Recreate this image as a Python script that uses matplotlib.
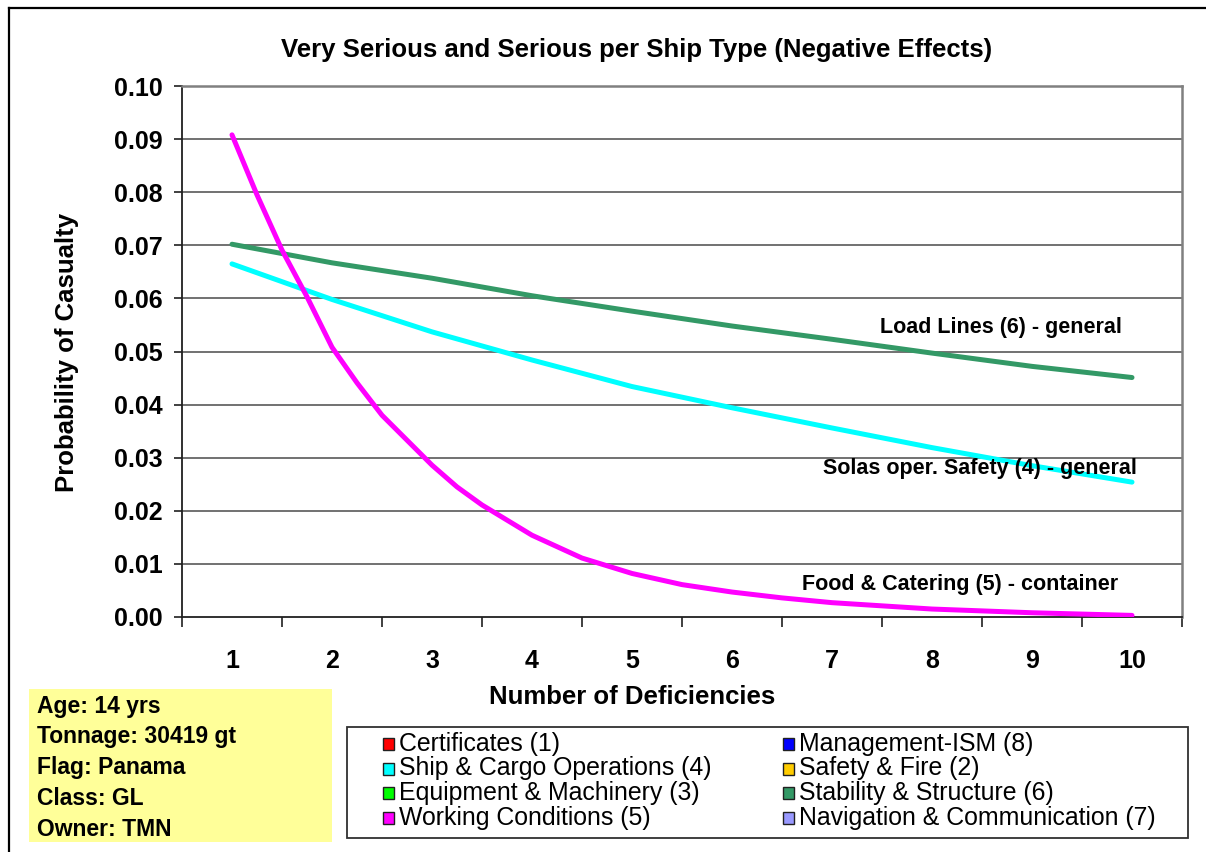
import matplotlib
matplotlib.use("Agg")
import matplotlib.pyplot as plt
from matplotlib.patches import Rectangle
from matplotlib.lines import Line2D

plt.rcParams['font.family'] = ['Liberation Sans', 'DejaVu Sans']

# ---- data ----
categories = [1, 2, 3, 4, 5, 6, 7, 8, 9, 10]
load_lines = [0.0702, 0.0667, 0.0638, 0.0605, 0.0576, 0.0548, 0.0523, 0.0497, 0.0472, 0.0451]
solas = [0.0665, 0.0598, 0.0537, 0.0484, 0.0434, 0.0394, 0.0356, 0.0319, 0.0285, 0.0254]
food_x = [1, 1.25, 1.5, 1.75, 2, 2.25, 2.5, 2.75, 3, 3.25, 3.5, 4, 4.5, 5, 5.5, 6, 6.5, 7, 8, 9, 10]
food = [0.0908, 0.0795, 0.0691, 0.0603, 0.0508, 0.0441, 0.0380, 0.0333, 0.0286, 0.0245, 0.0211,
        0.0154, 0.0111, 0.0082, 0.0061, 0.0047, 0.0036, 0.0027, 0.0015, 0.0008, 0.0003]
yticks = [0.00, 0.01, 0.02, 0.03, 0.04, 0.05, 0.06, 0.07, 0.08, 0.09, 0.10]

title = "Very Serious and Serious per Ship Type (Negative Effects)"
xlabel = "Number of Deficiencies"
ylabel = "Probability of Casualty"
annotations = ["Load Lines (6) - general", "Solas oper. Safety (4) - general", "Food & Catering (5) - container"]
info_lines = ["Age: 14 yrs", "Tonnage: 30419 gt", "Flag: Panama", "Class: GL", "Owner: TMN"]
legend_col1 = ["Certificates (1)", "Ship & Cargo Operations (4)", "Equipment & Machinery (3)", "Working Conditions (5)"]
legend_col1_colors = ["#FF0000", "#00FFFF", "#00FF00", "#FF00FF"]
legend_col2 = ["Management-ISM (8)", "Safety & Fire (2)", "Stability & Structure (6)", "Navigation & Communication (7)"]
legend_col2_colors = ["#0000FF", "#FFCC00", "#339966", "#9999FF"]

W, H = 1206, 852
fig = plt.figure(figsize=(W / 100, H / 100), dpi=100)

def fx(px):
    return px / W

def fy(py):
    return 1 - py / H

# figure border (top and left)
fig.add_artist(Line2D([fx(9), 1.0], [fy(8), fy(8)], color="black", lw=1.6))
fig.add_artist(Line2D([fx(9), fx(9)], [fy(8), 0.0], color="black", lw=1.6))

ax = fig.add_axes([fx(182), fy(617), fx(1182) - fx(182), fy(86) - fy(617)])
ax.set_xlim(0.5, 10.5)
ax.set_ylim(0, 0.10)

for y in yticks[1:]:
    ax.axhline(y, color="#4a4a4a", lw=1.1, zorder=1)

ax.plot(categories, load_lines, color="#339966", lw=3.6, solid_capstyle="round", zorder=3)
ax.plot(categories, solas, color="#00FFFF", lw=3.6, solid_capstyle="round", zorder=3)
ax.plot(food_x, food, color="#FF00FF", lw=3.6, solid_capstyle="round", zorder=4)

for s in ["top", "right"]:
    ax.spines[s].set_color("#808080")
    ax.spines[s].set_linewidth(1.8)
for s in ["left", "bottom"]:
    ax.spines[s].set_color("#202020")
    ax.spines[s].set_linewidth(1.3)

ax.set_yticks(yticks)
ax.set_yticklabels([f"{v:.2f}" for v in yticks])
ax.set_xticks(categories)
ax.set_xticklabels([str(c) for c in categories])
ax.set_xticks([c - 0.5 for c in categories] + [10.5], minor=True)
ax.tick_params(axis="x", which="major", length=0, pad=23, labelsize=18)
ax.tick_params(axis="x", which="minor", length=7, width=1.2, direction="out", color="#202020")
ax.tick_params(axis="y", which="major", length=6, width=1.2, direction="out", pad=8, labelsize=18, color="#202020")
for lab in ax.get_xticklabels() + ax.get_yticklabels():
    lab.set_fontweight("bold")

# annotations
ax.text(9.9, 0.0545, annotations[0], ha="right", va="center", fontsize=15.5, fontweight="bold")
ax.text(10.05, 0.0279, annotations[1], ha="right", va="center", fontsize=15.5, fontweight="bold")
ax.text(9.86, 0.0062, annotations[2], ha="right", va="center", fontsize=15.5, fontweight="bold")

# title and axis labels
fig.text(fx(637), fy(50), title, ha="center", va="center", fontsize=18.5, fontweight="bold")
fig.text(fx(632), fy(697), xlabel, ha="center", va="center", fontsize=18.5, fontweight="bold")
fig.text(fx(67), fy(352), ylabel, ha="center", va="center", fontsize=18.5, fontweight="bold", rotation=90)

# info box
fig.add_artist(Rectangle((fx(29), fy(842)), fx(332) - fx(29), fy(689) - fy(842),
                         facecolor="#FFFF99", edgecolor="none", transform=fig.transFigure))
for i, t in enumerate(info_lines):
    fig.text(fx(37), fy(706 + i * 30.8), t, ha="left", va="center", fontsize=16.5, fontweight="bold")

# legend box
fig.add_artist(Rectangle((fx(347), fy(838)), fx(1188) - fx(347), fy(727) - fy(838),
                         facecolor="white", edgecolor="#303030", lw=1.3, transform=fig.transFigure))
row_y = [744, 768.5, 793, 817.5]
for col_x, labels, colors in [(388, legend_col1, legend_col1_colors), (788, legend_col2, legend_col2_colors)]:
    for yy, lab, col in zip(row_y, labels, colors):
        fig.add_artist(Rectangle((fx(col_x - 5), fy(yy + 6)), fx(11), 12 / H,
                                 facecolor=col, edgecolor="#202020", lw=1.0, transform=fig.transFigure))
        fig.text(fx(col_x + 11), fy(yy), lab, ha="left", va="center", fontsize=17.9)

fig.savefig("out.png", dpi=100)
